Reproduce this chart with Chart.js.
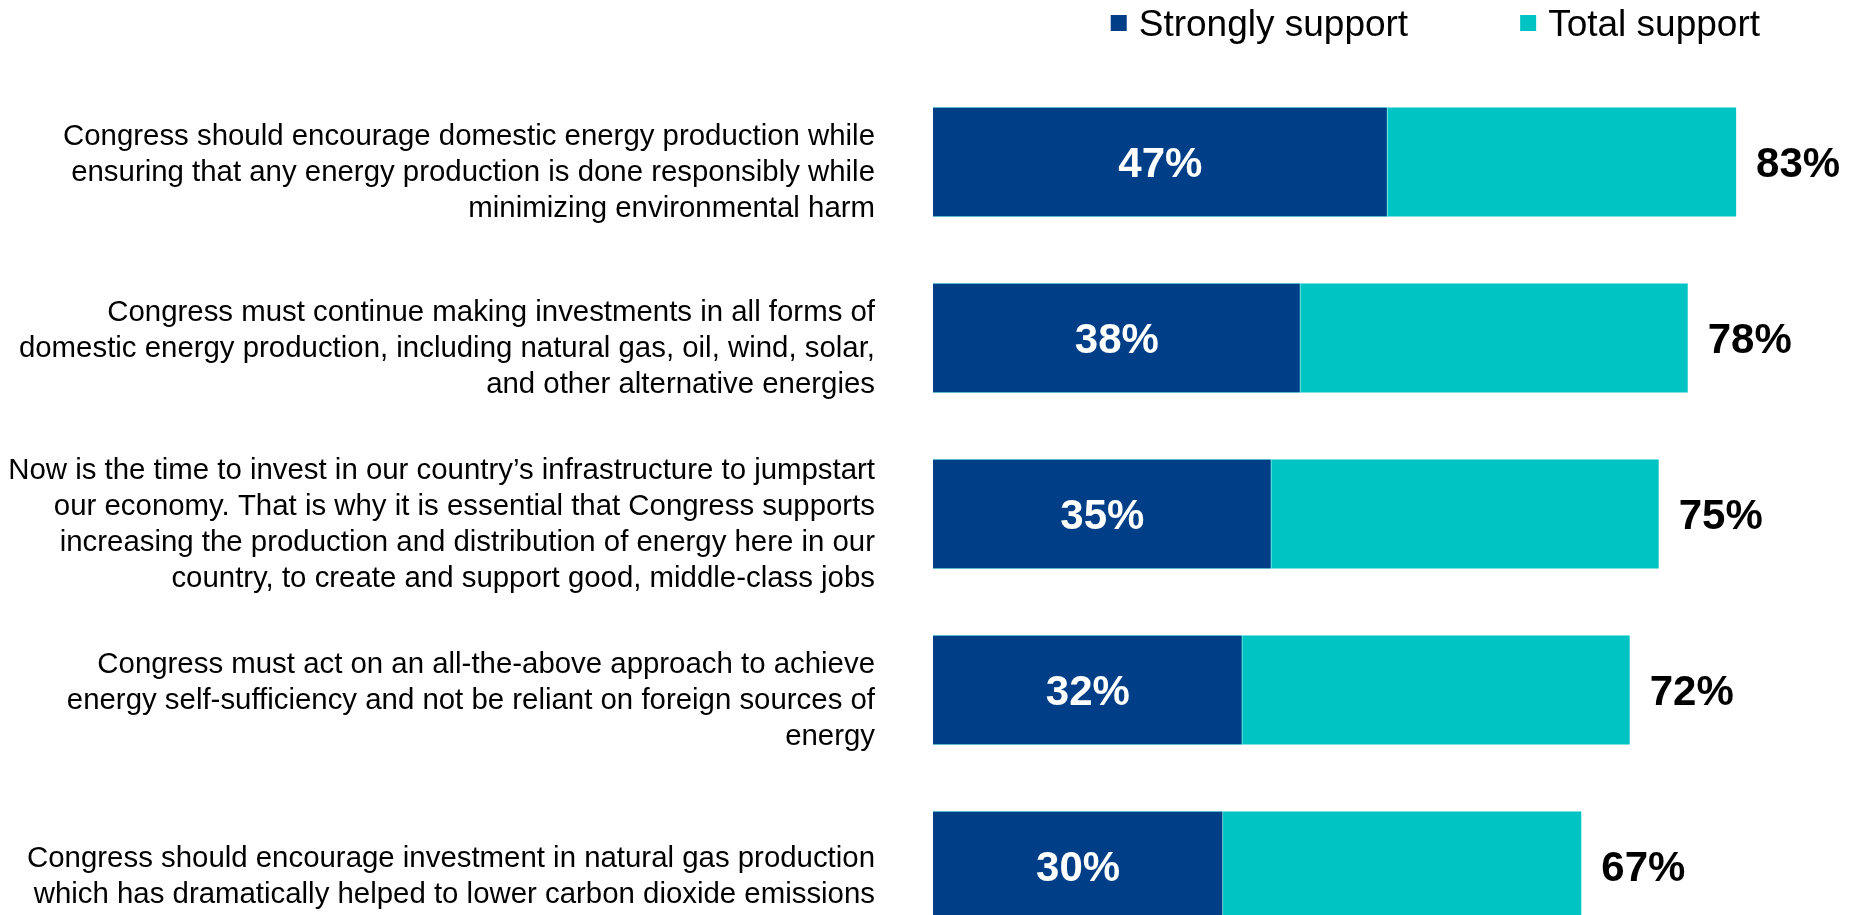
<!DOCTYPE html>
<html>
<head>
<meta charset="utf-8">
<script src="https://cdn.jsdelivr.net/npm/chart.js@4"></script>
<style>
  html, body { margin: 0; padding: 0; background: #fff; overflow: hidden; }
  #wrap { position: relative; width: 1866px; height: 960px; }
</style>
</head>
<body>
<div id="wrap"><canvas id="supportChart"></canvas></div>
<script>
// statements (already wrapped like in the slide)
const statements = [
    ['Congress should encourage domestic energy production while', 'ensuring that any energy production is done responsibly while', 'minimizing environmental harm'],
    ['Congress must continue making investments in all forms of', 'domestic energy production, including natural gas, oil, wind, solar,', 'and other alternative energies'],
    ['Now is the time to invest in our country\u2019s infrastructure to jumpstart', 'our economy. That is why it is essential that Congress supports', 'increasing the production and distribution of energy here in our', 'country, to create and support good, middle-class jobs'],
    ['Congress must act on an all-the-above approach to achieve', 'energy self-sufficiency and not be reliant on foreign sources of', 'energy'],
    ['Congress should encourage investment in natural gas production', 'which has dramatically helped to lower carbon dioxide emissions']
];
const strongly = [47, 38, 35, 32, 30];
const total = [83, 78, 75, 72, 67];

const darkBlue = '#003e87';
const teal = '#00c3c4';
const fontFam = '"Liberation Sans", Arial, sans-serif';

// tulis angka persen di bar
const valueLabels = {
    id: 'valueLabels',
    afterDatasetsDraw(chart) {
        const ctx = chart.ctx;
        ctx.save();
        ctx.font = 'bold 42px ' + fontFam;
        ctx.textBaseline = 'middle';
        chart.getDatasetMeta(0).data.forEach((bar, i) => {
            ctx.fillStyle = '#ffffff';
            ctx.textAlign = 'center';
            ctx.fillText(strongly[i] + '%', (bar.base + bar.x) / 2, bar.y + 3);
        });
        chart.getDatasetMeta(1).data.forEach((bar, i) => {
            ctx.fillStyle = '#000000';
            ctx.textAlign = 'left';
            ctx.fillText(total[i] + '%', bar.x + 20, bar.y + 3);
        });
        ctx.restore();
    }
};

// legend sendiri, kanan atas
const topLegend = {
    id: 'topLegend',
    afterDraw(chart) {
        const ctx = chart.ctx;
        const sets = chart.data.datasets;
        ctx.save();
        ctx.font = '37px ' + fontFam;
        ctx.textBaseline = 'middle';
        ctx.textAlign = 'left';
        const box = 16, boxGap = 12, itemGap = 112, yMid = 23;
        let widths = sets.map(d => box + boxGap + ctx.measureText(d.label).width);
        let x = 1760 - widths.reduce((a, b) => a + b, 0) - itemGap * (sets.length - 1);
        sets.forEach((d, i) => {
            ctx.fillStyle = d.backgroundColor;
            ctx.fillRect(x, yMid - box / 2, box, box);
            ctx.fillStyle = '#000';
            ctx.fillText(d.label, x + box + boxGap, yMid + 3);
            x += widths[i] + itemGap;
        });
        ctx.restore();
    }
};

const supportChart = new Chart(document.getElementById('supportChart'), {
    type: 'bar',
    data: {
        labels: statements,
        datasets: [{
            label: 'Strongly support',
            data: strongly,
            backgroundColor: darkBlue,
            borderColor: 'rgba(255,255,255,0.75)',
            borderWidth: { right: 1 },
            borderSkipped: 'start',
            grouped: false,
            barPercentage: 0.62,
            categoryPercentage: 1
        }, {
            label: 'Total support',
            data: total,
            backgroundColor: teal,
            borderWidth: 0,
            grouped: false,
            barPercentage: 0.62,
            categoryPercentage: 1
        }]
    },
    options: {
        indexAxis: 'y',
        responsive: true,
        maintainAspectRatio: false,
        animation: false,
        layout: { padding: { top: 74, right: 7, bottom: 6, left: 0 } },
        plugins: {
            legend: { display: false },
            tooltip: { enabled: false }
        },
        scales: {
            x: {
                display: false,
                min: 0,
                max: 95.7
            },
            y: {
                grid: { display: false, drawTicks: false },
                border: { display: false },
                ticks: {
                    padding: 58,
                    labelOffset: 11,
                    color: '#000',
                    font: { family: fontFam, size: 29.4, lineHeight: 1.22 }
                },
                afterFit: (scale) => {
                    scale.width = 933;
                    // labels sit mid-category, no extra room needed
                    scale.paddingTop = 0;
                    scale.paddingBottom = 0;
                }
            }
        }
    },
    plugins: [valueLabels, topLegend]
});
</script>
</body>
</html>
